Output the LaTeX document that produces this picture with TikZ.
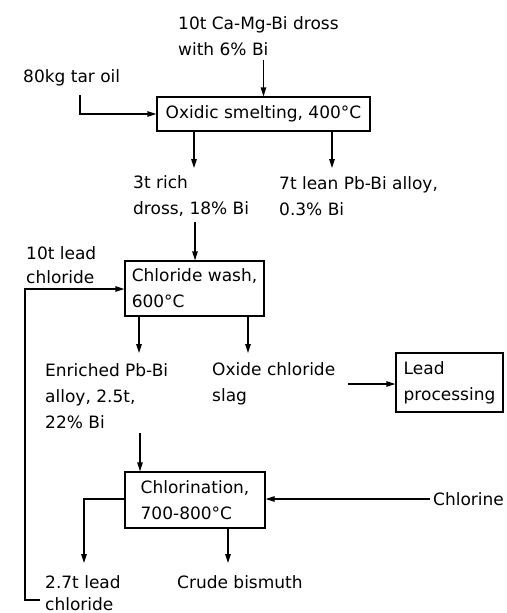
\documentclass[tikz,border=0pt]{standalone}
\usepackage{fontspec}
\setmainfont{DejaVu Sans}
\usetikzlibrary{arrows.meta}
\begin{document}
\begin{tikzpicture}[x=1pt,y=-1pt,
  every node/.style={font=\fontsize{17}{26}\selectfont},
  txt/.style={inner sep=0pt,align=left,anchor=west},
  box/.style={draw,line width=1.2pt,inner sep=0pt,align=left},
  arr/.style={line width=1.2pt,-{Triangle[length=9pt,width=5.5pt]}},
  ln/.style={line width=1.2pt}]
\useasboundingbox (0,0) rectangle (506,613);
% text nodes
\node[txt] (dross) at (178,36) {10t Ca-Mg-Bi dross\\with 6\% Bi};
\node[txt] (tar) at (23,78) {80kg tar oil};
\node[txt] (rich) at (133,196) {3t rich\\dross, 18\% Bi};
\node[txt] (lean) at (279,196) {7t lean Pb-Bi alloy,\\0.3\% Bi};
\node[txt,font=\fontsize{17}{24}\selectfont] (lc1) at (26,265) {10t lead\\chloride};
\node[txt] (enr) at (45,396) {Enriched Pb-Bi\\alloy, 2.5t,\\22\% Bi};
\node[txt] (slag) at (212,384) {Oxide chloride\\slag};
\node[txt] (chlorine) at (433,499) {Chlorine};
\node[txt,font=\fontsize{17}{22}\selectfont] (lc2) at (45,593) {2.7t lead\\chloride};
\node[txt] (bi) at (177,582) {Crude bismuth};
% boxes
\node[box,minimum width=213pt,minimum height=34pt] (ox) at (263.5,114) {Oxidic smelting, 400°C};
\node[box,minimum width=139pt,minimum height=55pt] (cw) at (194.5,288.5) {Chloride wash,\\600°C};
\node[box,minimum width=107pt,minimum height=59pt] (lp) at (449.5,382.5) {Lead\\processing};
\node[box,minimum width=140pt,minimum height=56pt] (chl) at (195,500) {Chlorination,\\700-800°C};
% coordinates
\coordinate (t1) at (80,95);
\coordinate (a1) at (194,168);
\coordinate (a2) at (332,168);
\coordinate (a3) at (195,222);
\coordinate (f0) at (40,600);
\coordinate (fb) at (25,289);
\coordinate (a4) at (139,353);
\coordinate (a5) at (248,353);
\coordinate (a6) at (348,384);
\coordinate (a7) at (140,433);
\coordinate (c1) at (430,499);
\coordinate (l1) at (84,499);
\coordinate (l2) at (84,563);
\coordinate (a8) at (228,563);
\coordinate (d1) at (263.5,60);
% connectors
\draw[arr] (d1) -- (ox.north);
\draw[arr] (t1) |- (ox.west);
\draw[arr] (ox.south -| a1) -- (a1);
\draw[arr] (ox.south -| a2) -- (a2);
\draw[arr] (a3) -- (cw.north -| a3);
\draw[arr] (f0) -| (fb) -- (cw.west |- fb);
\draw[arr] (cw.south -| a4) -- (a4);
\draw[arr] (cw.south -| a5) -- (a5);
\draw[arr] (a6) -- (lp.west |- a6);
\draw[arr] (a7) -- (chl.north -| a7);
\draw[arr] (c1) -- (chl.east |- c1);
\draw[arr] (chl.west |- l1) -- (l1) -- (l2);
\draw[arr] (chl.south -| a8) -- (a8);
\end{tikzpicture}
\end{document}
